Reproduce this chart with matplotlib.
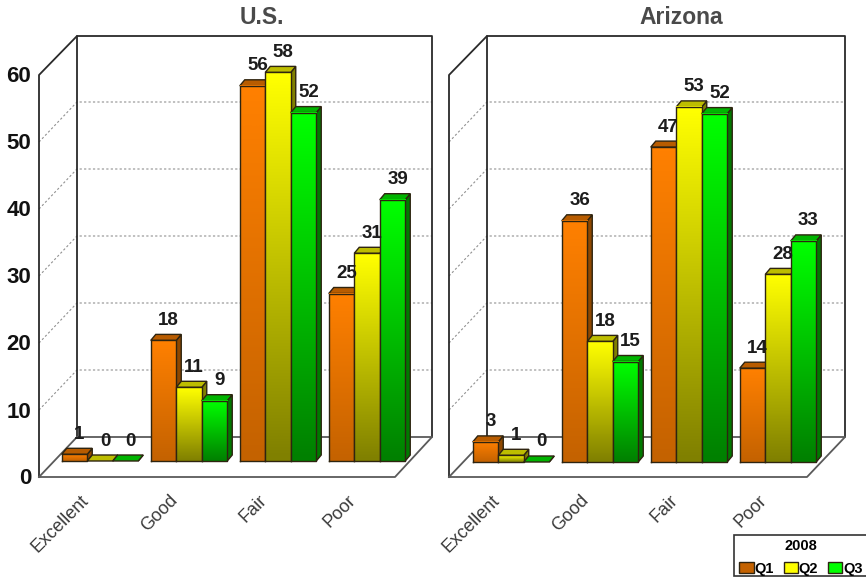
import numpy as np
import matplotlib
matplotlib.use("Agg")
import matplotlib.pyplot as plt
from matplotlib.colors import LinearSegmentedColormap
from matplotlib.patches import Polygon, Patch, Rectangle

plt.rcParams["font.family"] = ["Liberation Sans", "DejaVu Sans"]

categories = ["Excellent", "Good", "Fair", "Poor"]
quarters = ["Q1", "Q2", "Q3"]
us_values = [[1, 18, 56, 25], [0, 11, 58, 31], [0, 9, 52, 39]]
arizona_values = [[3, 36, 47, 14], [1, 18, 53, 28], [0, 15, 52, 33]]
y_ticks = [0, 10, 20, 30, 40, 50, 60]

# bright, dark, top face, side face
colors = {
    "Q1": ("#ff8000", "#c46200", "#b85c00", "#8f4800"),
    "Q2": ("#ffff00", "#808000", "#bdbd00", "#808000"),
    "Q3": ("#00ff00", "#008000", "#00b400", "#007a00"),
}

W, H = 866, 577
PX_PER_UNIT = 6.7
GROUP_PX = 89.0
BAR_PX = 25.5
DEPTH_X, DEPTH_Y = 5, 6
EDGE = "#2e2410"

fig = plt.figure(figsize=(W / 100, H / 100), dpi=100)


def make_panel(left_px, right_px, center_px, base_px):
    # axes run in group units / value units, the whole figure height tall
    ax = fig.add_axes([left_px / W, 0, (right_px - left_px) / W, 1])
    ax.set_axis_off()
    ax.set_xlim((left_px - center_px) / GROUP_PX, (right_px - center_px) / GROUP_PX)
    ax.set_ylim((base_px - H) / PX_PER_UNIT, base_px / PX_PER_UNIT)
    return ax


def draw_box(ax, x_front, x_front_right, x_back, x_back_right, center_px, base_px):
    fx = lambda p: (p - center_px) / GROUP_PX
    fy = lambda p: (base_px - p) / PX_PER_UNIT
    wall = dict(color="#2a2a2a", lw=1.3, zorder=2, solid_capstyle="round")
    floor = dict(color="#5a5a5a", lw=1.3, zorder=2)
    ax.plot([fx(x_front), fx(x_front), fx(x_back), fx(x_back_right), fx(x_back_right)],
            [fy(477), fy(75), fy(36), fy(36), fy(437)], **wall)
    ax.plot([fx(x_back), fx(x_back)], [fy(36), fy(437)], **wall)
    ax.plot([fx(x_front), fx(x_back), fx(x_back_right), fx(x_front_right), fx(x_front)],
            [fy(477), fy(437), fy(437), fy(477), fy(477)], **floor)
    # dotted grid on the side wall and back wall
    for v in y_ticks[1:-1]:
        y_wall = 437 - v * PX_PER_UNIT
        ax.plot([fx(x_front), fx(x_back), fx(x_back_right)],
                [fy(y_wall + 40), fy(y_wall), fy(y_wall)],
                color="#909090", lw=0.8, ls=(0, (2, 2)), zorder=1)


def draw_bars(ax, series):
    bar_w = BAR_PX / GROUP_PX
    dx = DEPTH_X / GROUP_PX
    dy = DEPTH_Y / PX_PER_UNIT
    for s, name in enumerate(quarters):
        bright, dark, top, side = colors[name]
        cmap = LinearSegmentedColormap.from_list(name, [dark, bright])
        z = 3 + s
        for i, v in enumerate(series[s]):
            x0 = i + (s - 1.5) * bar_w
            x1 = x0 + bar_w
            ax.add_patch(Polygon([(x1, 0), (x1 + dx, dy), (x1 + dx, v + dy), (x1, v)],
                                 fc=side, ec=EDGE, lw=1, zorder=z))
            ax.add_patch(Polygon([(x0, v), (x1, v), (x1 + dx, v + dy), (x0 + dx, v + dy)],
                                 fc=top, ec=EDGE, lw=1, zorder=z))
            if v > 0:
                grad = np.linspace(1, 0, 64).reshape(-1, 1)
                ax.imshow(grad, cmap=cmap, extent=[x0, x1, 0, v], aspect="auto",
                          vmin=0, vmax=1, zorder=z + 0.1, interpolation="bilinear")
                ax.plot([x0, x1, x1, x0, x0], [0, 0, v, v, 0], color=EDGE, lw=1, zorder=z + 0.2)
            ax.text(x0 + bar_w / 2 + dx, v + 20 / PX_PER_UNIT, str(v), ha="center", va="center",
                    fontsize=13.5, fontweight="bold", color="#1c1c1c", zorder=10)


panels = [
    ("U.S.", us_values, 0, 440, 100, 461, 39, 395, 77, 432, 262),
    ("Arizona", arizona_values, 440, 866, 511, 462, 449, 807, 487, 845, 681),
]

for title, series, left, right, center, base, xf, xfr, xb, xbr, title_x in panels:
    ax = make_panel(left, right, center, base)
    draw_box(ax, xf, xfr, xb, xbr, center, base)
    draw_bars(ax, series)
    ax.set_xlim((left - center) / GROUP_PX, (right - center) / GROUP_PX)
    ax.set_ylim((base - H) / PX_PER_UNIT, base / PX_PER_UNIT)
    ax.text((title_x - center) / GROUP_PX, (base - 18) / PX_PER_UNIT, title, ha="center", va="center",
            fontsize=16.5, fontweight="bold", color="#4a4a4a")
    for i, cat in enumerate(categories):
        ax.text(i - 20 / GROUP_PX, (base - 492) / PX_PER_UNIT, cat, rotation=45, ha="right", va="top",
                rotation_mode="anchor", fontsize=13, color="#3a3a3a")
    if title == "U.S.":
        for v in y_ticks:
            ax.text((31 - center) / GROUP_PX, (base - 479 + v * PX_PER_UNIT) / PX_PER_UNIT, str(v),
                    ha="right", va="center", fontsize=16, fontweight="bold", color="#111111")

# legend box runs off the right edge of the figure
fig.add_artist(Rectangle((734 / W, 1 - 576 / H), 140 / W, 41 / H, transform=fig.transFigure,
                         fc="white", ec="#333333", lw=1.2, zorder=20))
handles = [Patch(facecolor=colors[q][1] if q == "Q1" else colors[q][0], edgecolor=EDGE, label=q) for q in quarters]
leg = fig.legend(handles=handles, title="2008", ncol=3, loc="upper left",
                 bbox_to_anchor=(735 / W, 1 - 535 / H), borderaxespad=0, frameon=False,
                 prop={"weight": "bold", "size": 10.5},
                 title_fontproperties={"weight": "bold", "size": 10.5},
                 handlelength=1.0, handleheight=0.7, handletextpad=0.05, columnspacing=0.65,
                 borderpad=0.3, labelspacing=0.2)
leg._legend_box.sep = 6
leg.set_zorder(21)

fig.savefig("out.png", dpi=100, facecolor="white")
